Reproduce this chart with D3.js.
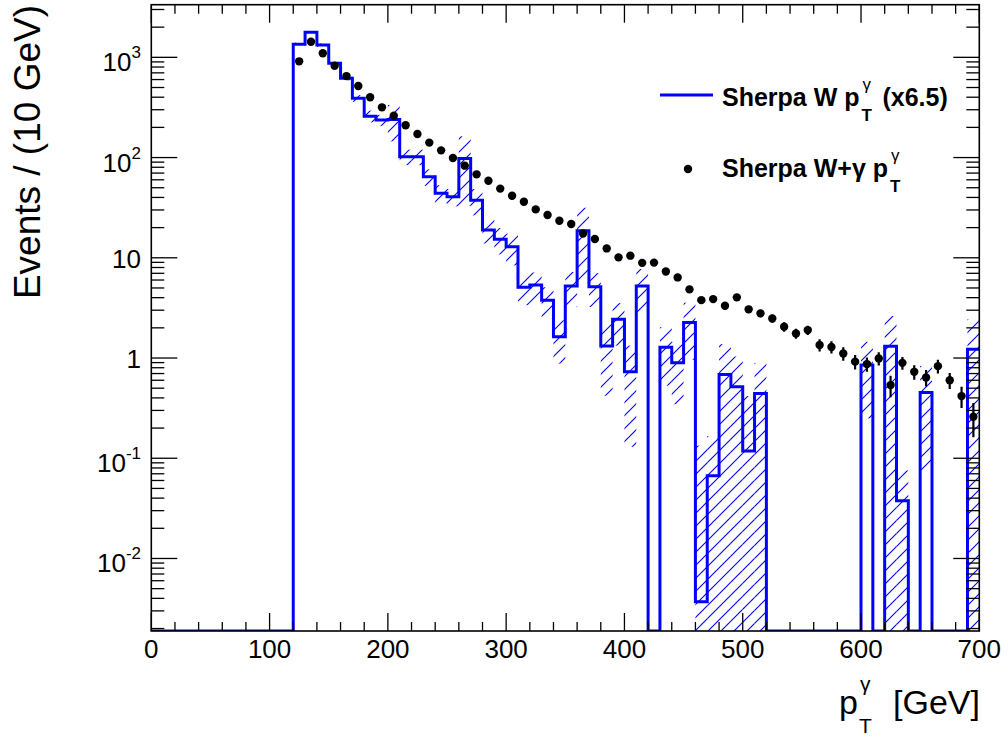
<!DOCTYPE html>
<html><head><meta charset="utf-8">
<script src="https://cdn.jsdelivr.net/npm/d3@7"></script>
<style>body{margin:0;background:#fff}svg{display:block}</style>
</head><body>
<svg id="c" width="1008" height="738"></svg>
<script>
// ---------- data ----------
const binLow = d3.range(0, 700, 10);           // histogram bin lower edges (GeV)
const binWidth = 10;
// Sherpa W pT(gamma) x6.5 (blue histogram), one value per 10 GeV bin, 0..700
const wValues = [
  0,0,0,0,0,0,0,0,0,0,0,0,
  1349,1775,1327,871,617,390,259,237,240,102,102,64.3,44,40.6,98,37.5,18.9,15.3,12.9,
  5.07,5.34,3.78,1.63,5.22,18.6,5.13,1.32,2.43,0.73,5.22,0,1.28,0.896,2.26,0.0037,0.067,
  0.686,0.516,0.118,0.443,
  0,0,0,0,0,0,0,0,
  0.85,0,1.31,0.0376,0,0.454,0,0,0,1.22
];
const wErrors = [
  0,0,0,0,0,0,0,0,0,0,0,0,
  50,60,50,35,28,30,35,30,95,18,18,12,9,8,65,11,5,4.5,4.5,
  1.7,1.8,1.3,0.75,2,13,1.9,0.9,1.1,0.6,2.5,0,0.75,0.55,1.3,0.13,0.1,
  0.69,0.52,0.3,0.45,
  0,0,0,0,0,0,0,0,
  0.6,0,1.31,0.038,0,0.38,0,0,0,1.22
];
// Sherpa W+gamma pT(gamma) (black points), bin centres 125..695
const wgCenters = d3.range(125, 700, 10);
const wgValues = [
  912,1432,1097,825,650,517,399,317,261,210,172,141,118,99,83,68,58.7,49,
  41.6,36.2,30.4,26.7,23.4,21.7,17.5,15.4,12.4,10.1,10.5,8.9,8.95,7.3,6.37,4.84,3.78,
  3.87,3.32,4.03,3.06,2.79,2.48,2.05,1.76,1.90,1.35,1.29,1.11,0.92,0.87,0.99,0.537,
  0.895,0.728,0.64,0.83,0.60,0.417,0.259
];
const wgErrors = [
  4.3,5.4,4.7,4.1,3.6,3.2,2.8,2.5,2.3,2.0,1.9,1.7,1.5,1.4,1.3,1.2,1.1,1.0,
  0.9,0.85,0.78,0.73,0.68,0.66,0.59,0.55,0.5,0.45,0.46,0.42,0.42,0.38,0.36,0.31,0.27,
  0.28,0.26,0.28,0.25,0.24,0.22,0.22,0.2,0.2,0.19,0.18,0.17,0.15,0.14,0.15,0.13,
  0.13,0.12,0.12,0.13,0.11,0.1,0.097
];
const xTickLabels = ["0","100","200","300","400","500","600","700"];
const xTickValues = [0,100,200,300,400,500,600,700];
const yTickValues = [1e-2,1e-1,1,10,100,1000];
const yTickLabels = [["10","-2"],["10","-1"],["1",""],["10",""],["10","2"],["10","3"]];
const legendLabels = ["Sherpa W p", "Sherpa W+\u03b3 p"];

// ---------- layout ----------
const L = 151.3, R = 979.3, T = 4.7, B = 631;
const x = d3.scaleLinear().domain([0, 700]).range([L, R]);
const y = d3.scaleLog().domain([1.89e-3, 3350]).range([B, T]);
const yMin = y.domain()[0], yMax = y.domain()[1];
const FONT = "'Liberation Sans', Arial, Helvetica, sans-serif";
const BLUE = "#0000ff";

const svg = d3.select("#c");
const defs = svg.append("defs");
defs.append("clipPath").attr("id","plotclip").append("rect")
  .attr("x", L).attr("y", T).attr("width", R-L).attr("height", B-T);
const s = 13;
const pat = defs.append("pattern").attr("id","hatch").attr("patternUnits","userSpaceOnUse")
  .attr("width", s).attr("height", s);
pat.append("path").attr("d", `M0,${s} L${s},0 M-2,2 L2,-2 M${s-2},${s+2} L${s+2},${s-2}`)
  .attr("stroke", BLUE).attr("stroke-width", 1.1).attr("fill","none");

const plot = svg.append("g").attr("clip-path","url(#plotclip)");

// hatched error band
const yc = v => v > yMin ? y(Math.min(v, yMax)) : B;
plot.append("g").selectAll("rect").data(binLow.map((b,i)=>({b, v:wValues[i], e:wErrors[i]})).filter(d=>d.e>0))
  .join("rect")
  .attr("x", d => x(d.b)).attr("width", d => x(d.b+binWidth)-x(d.b))
  .attr("y", d => yc(d.v + d.e))
  .attr("height", d => yc(d.v - d.e) - yc(d.v + d.e))
  .attr("fill","url(#hatch)");

// histogram outline
const pts = [];
binLow.forEach((b,i) => { pts.push([x(b), yc(wValues[i])]); pts.push([x(b+binWidth), yc(wValues[i])]); });
plot.append("path").attr("d", d3.line()(pts))
  .attr("fill","none").attr("stroke", BLUE).attr("stroke-width", 3).attr("stroke-linejoin","miter");

// black points
const pg = plot.append("g");
pg.selectAll("line").data(wgCenters.map((c,i)=>({c, v:wgValues[i], e:wgErrors[i]})))
  .join("line")
  .attr("x1", d=>x(d.c)).attr("x2", d=>x(d.c))
  .attr("y1", d=>yc(d.v - d.e)).attr("y2", d=>yc(d.v + d.e))
  .attr("stroke","#000").attr("stroke-width",2.2);
pg.selectAll("circle").data(wgCenters.map((c,i)=>({c, v:wgValues[i]})))
  .join("circle").attr("cx", d=>x(d.c)).attr("cy", d=>y(d.v)).attr("r", 4.2).attr("fill","#000");

// frame
const ax = svg.append("g").attr("stroke","#000").attr("stroke-width",1.3);
ax.append("rect").attr("x",L).attr("y",T).attr("width",R-L).attr("height",B-T).attr("fill","none").attr("stroke-width",1.6);

// x ticks
x.ticks(35).forEach(t => {
  const major = t % 100 === 0;
  const len = major ? 18 : 9;
  ax.append("line").attr("x1",x(t)).attr("x2",x(t)).attr("y1",B).attr("y2",B-len);
  ax.append("line").attr("x1",x(t)).attr("x2",x(t)).attr("y1",T).attr("y2",T+len);
});
// y ticks
y.ticks().forEach(t => {
  const major = Math.abs(Math.log10(t) - Math.round(Math.log10(t))) < 1e-9;
  const len = major ? 26 : 13;
  ax.append("line").attr("x1",L).attr("x2",L+len).attr("y1",y(t)).attr("y2",y(t));
  ax.append("line").attr("x1",R).attr("x2",R-len).attr("y1",y(t)).attr("y2",y(t));
});

// tick labels
const lab = svg.append("g").attr("font-family", FONT).attr("fill","#000");
xTickValues.forEach((v,i) => {
  lab.append("text").attr("x", x(v)).attr("y", 658).attr("text-anchor","middle")
    .attr("font-size", 26).text(xTickLabels[i]);
});
yTickValues.forEach((v,i) => {
  const [base, exp] = yTickLabels[i];
  const t = lab.append("text").attr("x", 141).attr("y", y(v) + (exp ? 14 : 10))
    .attr("text-anchor","end").attr("font-size", 26);
  t.append("tspan").text(base);
  if (exp) t.append("tspan").attr("font-size",17).attr("dy",-13).text(exp);
});

// axis titles
svg.append("text").attr("font-family",FONT).attr("font-size",37)
  .attr("transform","translate(40,5) rotate(-90)").attr("text-anchor","end")
  .text("Events / (10 GeV)");
const xt = svg.append("g").attr("font-family",FONT).attr("font-size",34);
const gev = xt.append("text").attr("x",980).attr("y",714).attr("text-anchor","end").text("[GeV]");
const gw = gev.node().getComputedTextLength();
const pText = xt.append("text").attr("x", 980 - gw - 54).attr("y",714).text("p");
const px = 980 - gw - 54 + pText.node().getComputedTextLength();
xt.append("text").attr("x", px+2).attr("y", 691).attr("font-size",21).text("\u03b3");
xt.append("text").attr("x", px+1).attr("y", 733).attr("font-size",21).text("T");

// legend
const lg = svg.append("g").attr("font-family",FONT).attr("font-weight","bold");
lg.append("line").attr("x1",660).attr("x2",713).attr("y1",95).attr("y2",95).attr("stroke",BLUE).attr("stroke-width",3);
lg.append("circle").attr("cx",688).attr("cy",169).attr("r",4.2).attr("fill","#000");
function legendText(x0, yb, label, tail) {
  const t = lg.append("text").attr("x",x0).attr("y",yb).attr("font-size",25).text(label);
  const w = t.node().getComputedTextLength();
  lg.append("text").attr("x",x0+w+3).attr("y",yb-16).attr("font-size",17).attr("font-weight","normal").text("\u03b3");
  lg.append("text").attr("x",x0+w+2).attr("y",yb+15).attr("font-size",17).text("T");
  if (tail) lg.append("text").attr("x",x0+w+16).attr("y",yb).attr("font-size",25).text(tail);
}
legendText(722, 106, legendLabels[0], "\u00a0(x6.5)");
legendText(722, 177, legendLabels[1], "");
</script>
</body></html>
